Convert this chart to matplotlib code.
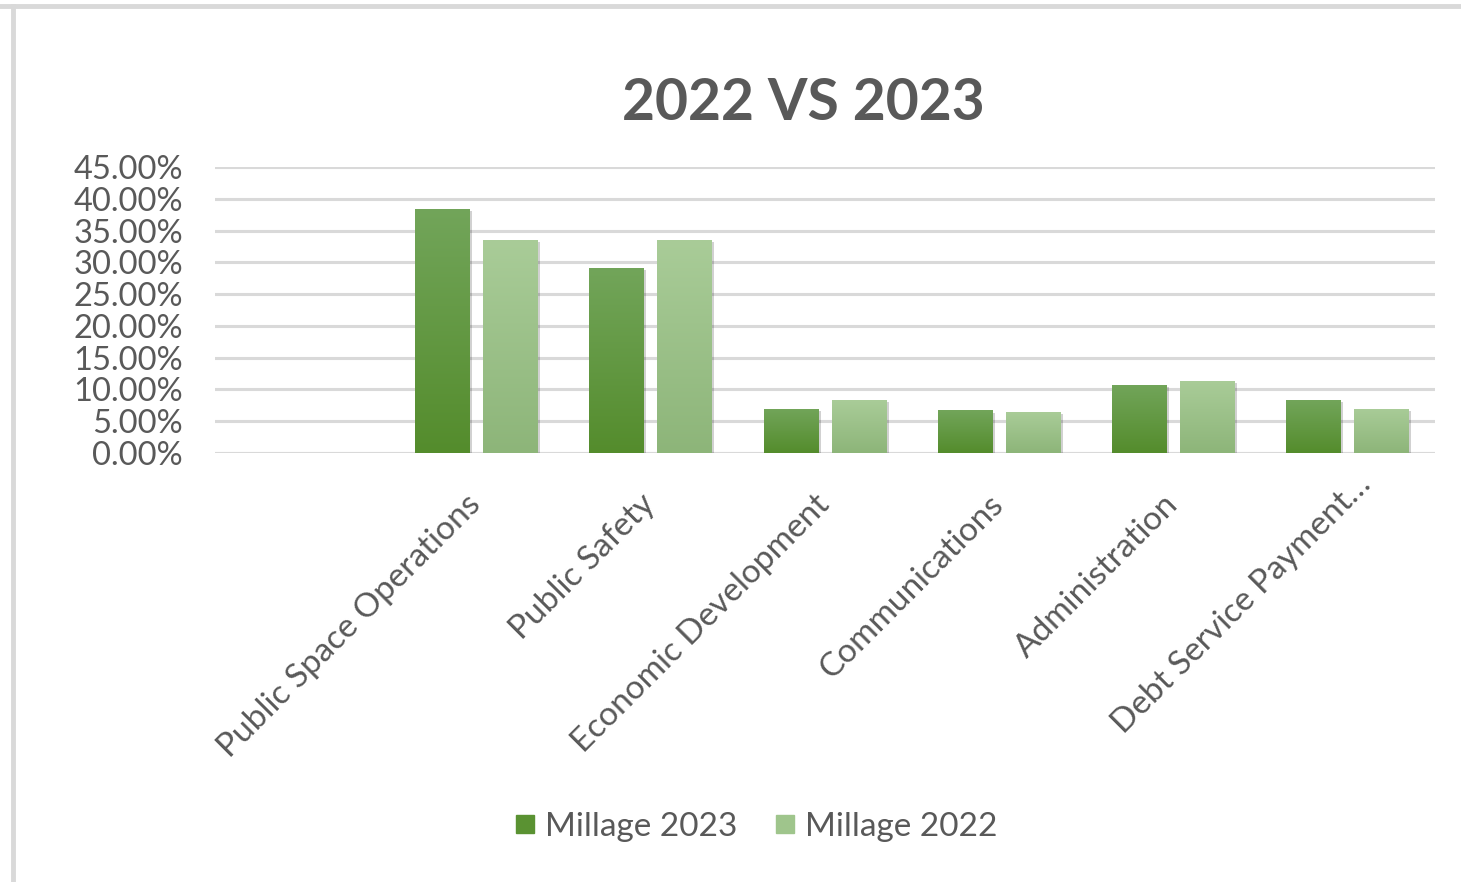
import numpy as np
import matplotlib.pyplot as plt
from matplotlib import patheffects as pe
from matplotlib.colors import LinearSegmentedColormap
from matplotlib.lines import Line2D
from matplotlib.ticker import FuncFormatter, MultipleLocator
from matplotlib.transforms import ScaledTranslation

# first category is blank in the source sheet
categories = ["", "Public Space Operations", "Public Safety", "Economic Development",
              "Communications", "Administration", "Debt Service Payment…"]
millage_2023 = [np.nan, 0.384, 0.291, 0.070, 0.067, 0.107, 0.083]
millage_2022 = [np.nan, 0.335, 0.335, 0.083, 0.064, 0.113, 0.070]

plt.rcParams['font.family'] = ['Lato', 'DejaVu Sans']
text_grey = '#595959'

fig = plt.figure(figsize=(14.61, 8.82), dpi=100)
ax = fig.add_axes([215 / 1461, 1 - 453 / 882, 1220 / 1461, 286 / 882])

x = np.arange(len(categories))
w = 0.315
off = 0.195

cmap23 = LinearSegmentedColormap.from_list('g23', ['#548c2c', '#72a55a'])
cmap22 = LinearSegmentedColormap.from_list('g22', ['#8db579', '#a9cc98'])

shadow = [pe.SimplePatchShadow(offset=(1.5, -1.5), shadow_rgbFace='#000000', alpha=0.18),
          pe.Normal()]

grad = np.linspace(0, 1, 256).reshape(-1, 1)
for vals, dx, cmap, base in [(millage_2023, -off, cmap23, '#5f9838'),
                             (millage_2022, off, cmap22, '#9bc287')]:
    bars = ax.bar(x + dx, vals, width=w, color=base, zorder=3)
    for b in bars:
        h = b.get_height()
        if not np.isfinite(h) or h == 0:
            continue
        b.set_path_effects(shadow)
        im = ax.imshow(grad, extent=[b.get_x(), b.get_x() + b.get_width(), 0, h],
                       origin='lower', cmap=cmap, aspect='auto', zorder=3.5,
                       interpolation='bicubic')
        im.set_clip_path(b)

ax.set_xlim(-0.5, len(categories) - 0.5)
ax.set_ylim(0, 0.45)
ax.yaxis.set_major_locator(MultipleLocator(0.05))
ax.yaxis.set_major_formatter(FuncFormatter(lambda v, p: f"{v * 100:.2f}%"))
ax.grid(axis='y', color='#d9d9d9', linewidth=2.2, zorder=0)
ax.set_axisbelow(True)
for s in ax.spines.values():
    s.set_visible(False)
ax.axhline(0, color='#d9d9d9', linewidth=2.2, zorder=1)

ax.tick_params(axis='y', length=0, labelsize=23.5, labelcolor=text_grey, pad=23)
ax.tick_params(axis='x', length=0, labelsize=24, labelcolor=text_grey, pad=26)
ax.set_xticks(x)
ax.set_xticklabels(categories, rotation=45, ha='right', va='top', rotation_mode='anchor')
for i, lbl in enumerate(ax.get_xticklabels()):
    dx_in, dy_in = -0.11, 0.0
    if i == len(categories) - 1:
        # truncated label sits a little further along its own direction
        dx_in, dy_in = 0.08, 0.2
    lbl.set_transform(lbl.get_transform() + ScaledTranslation(dx_in, dy_in, fig.dpi_scale_trans))

fig.text(803 / 1461, 1 - 104 / 882, "2022 VS 2023", ha='center', va='center',
         fontsize=41, fontweight='bold', color=text_grey)

handles = [Line2D([], [], marker='s', linestyle='', markersize=13, markerfacecolor='#5a9232',
                  markeredgecolor='#5a9232'),
           Line2D([], [], marker='s', linestyle='', markersize=13, markerfacecolor='#9fc58c',
                  markeredgecolor='#9fc58c')]
fig.legend(handles, ["Millage 2023", "Millage 2022"], loc='center',
           bbox_to_anchor=(753 / 1461, 1 - 827 / 882), ncol=2, frameon=False,
           fontsize=24, labelcolor=text_grey, handletextpad=0.1, columnspacing=0.95,
           handlelength=1.0)

# frame edges of the chart area
fig.add_artist(Line2D([0, 1], [1 - 6 / 882] * 2, color='#d9d9d9', linewidth=3.5,
                      transform=fig.transFigure))
fig.add_artist(Line2D([13 / 1461] * 2, [0, 1 - 6 / 882], color='#d9d9d9', linewidth=3.5,
                      transform=fig.transFigure))

fig.savefig('out.png', dpi=100)
